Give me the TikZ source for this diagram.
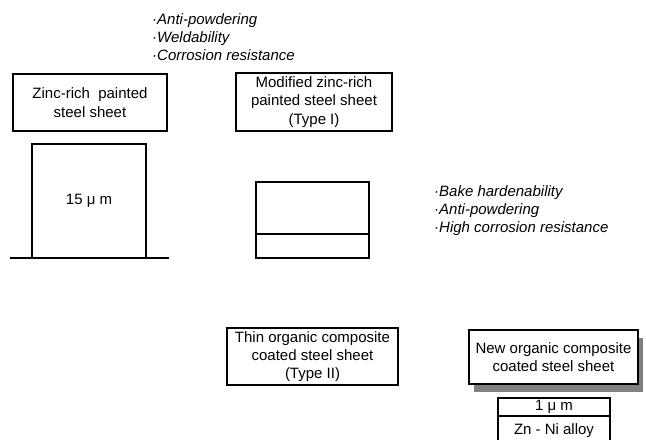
\documentclass[tikz,border=0pt]{standalone}
\usepackage{fontspec}
\setmainfont{Liberation Sans}
\usetikzlibrary{positioning, shadows}

\begin{document}
\begin{tikzpicture}[
  x=0.03cm, y=-0.03cm,
  every node/.style={font=\fontsize{12.8}{15.6}\selectfont},
  namebox/.style={rectangle, draw, fill=white, line width=2.4pt, align=center, inner sep=2pt},
  layer/.style={rectangle, draw, line width=1pt, inner sep=0pt, outer sep=0pt},
  props/.style={align=left, anchor=north west, inner sep=0pt,
    font=\fontsize{12.8}{15.4}\selectfont\itshape}
]
\clip (0,0) rectangle (646,439);

% Zinc-rich painted steel sheet
\node[namebox, minimum width=4.62cm, minimum height=1.71cm] (zr) at (90,102.5)
  {Zinc-rich\ \ painted\\steel sheet};
\node[layer, minimum width=3.42cm, minimum height=3.42cm] (zrcoat) at (89,201) {15 μ m};
\draw[line width=2.2pt] (10,258) -- (169,258);

% Modified zinc-rich (Type I)
\node[props] (propsA) at (152,13)
  {·Anti-powdering\\·Weldability\\·Corrosion resistance};
\node[namebox, minimum width=4.68cm, minimum height=1.74cm] (mzr) at (314,102)
  {Modified zinc-rich\\painted steel sheet\\(Type I)};
\node[layer, minimum width=3.39cm, minimum height=1.56cm] (mzrtop) at (312.5,208) {};
\node[layer, minimum width=3.39cm, minimum height=0.72cm, below=0pt of mzrtop] (mzrbot) {};

% Thin organic composite (Type II)
\node[props] (propsB) at (434,185)
  {·Bake hardenability\\·Anti-powdering\\·High corrosion resistance};
\node[namebox, minimum width=5.13cm, minimum height=1.71cm] (toc) at (312.5,356.5)
  {Thin organic composite\\coated steel sheet\\(Type II)};

% New organic composite
\node[namebox, minimum width=5.07cm, minimum height=1.62cm,
  drop shadow={shadow xshift=0.16cm, shadow yshift=-0.24cm, fill=black!50, opacity=1}]
  (noc) at (553.5,357) {New organic composite\\coated steel sheet};
\node[layer, minimum width=3.36cm, minimum height=0.54cm] (noctop) at (554,407) {1 μ m};
\node[layer, minimum width=3.36cm, minimum height=1.2cm, below=0pt of noctop] (nocbot) {};
\node (zn) at (554,431) {Zn - Ni alloy};

\end{tikzpicture}
\end{document}
